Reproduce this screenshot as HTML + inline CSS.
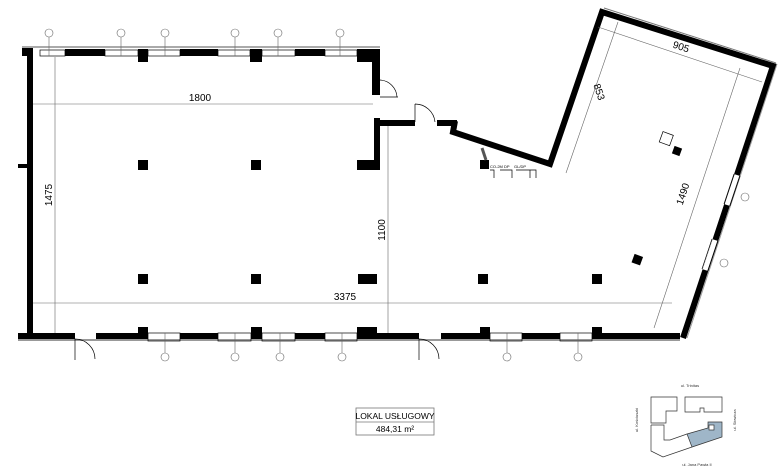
<!DOCTYPE html>
<html><head><meta charset="utf-8"><style>
html,body{margin:0;padding:0;background:#fff;}
svg{display:block;font-family:"Liberation Sans",sans-serif;}
</style></head><body>
<svg width="779" height="473" viewBox="0 0 779 473" xmlns="http://www.w3.org/2000/svg">
<g fill="#000">
<rect x="27" y="48" width="6" height="290"/>
<rect x="18" y="164" width="10" height="4"/>
<rect x="22" y="48" width="11" height="8"/>
<rect x="65" y="49" width="40" height="7"/>
<rect x="138" y="49" width="10" height="13"/>
<rect x="180" y="49" width="38" height="7"/>
<rect x="250" y="49" width="12" height="13"/>
<rect x="295" y="49" width="30" height="7"/>
<rect x="357" y="49" width="20" height="13"/>
<rect x="372" y="49" width="8" height="46"/>
<rect x="374" y="118" width="6" height="52"/>
<rect x="377" y="120" width="38" height="6"/>
<rect x="437" y="120" width="20" height="6"/>
<rect x="138" y="160" width="10" height="10"/>
<rect x="251" y="160" width="10" height="10"/>
<rect x="357" y="160" width="20" height="10"/>
<rect x="138" y="274" width="10" height="10"/>
<rect x="251" y="274" width="10" height="10"/>
<rect x="358" y="274" width="19" height="10"/>
<rect x="478" y="274" width="10" height="10"/>
<rect x="592" y="274" width="10" height="10"/>
<rect x="633" y="255" width="9" height="9" transform="rotate(20 637 259)"/>
<rect x="673" y="147" width="8" height="8" transform="rotate(20 677 151)"/>
<rect x="480" y="160" width="9" height="9"/>
<rect x="18" y="333" width="57" height="6"/>
<rect x="96" y="333" width="52" height="6"/>
<rect x="138" y="327" width="10" height="12"/>
<rect x="180" y="333" width="38" height="6"/>
<rect x="251" y="327" width="11" height="12"/>
<rect x="295" y="333" width="30" height="6"/>
<rect x="357" y="327" width="20" height="12"/>
<rect x="357" y="333" width="62" height="6"/>
<rect x="441" y="333" width="49" height="6"/>
<rect x="480" y="327" width="10" height="12"/>
<rect x="522" y="333" width="38" height="6"/>
<rect x="592" y="327" width="10" height="12"/>
<rect x="592" y="333" width="88" height="6"/>
</g>
<rect x="18" y="339" width="662" height="2" fill="#999"/>
<rect x="22" y="46" width="358" height="2" fill="#aaa"/>
<polyline points="455,121 453,132 550,164 602,12 773,66 683,338" fill="none" stroke="#000" stroke-width="6" stroke-linejoin="miter"/>
<polyline points="604,8 776,63" fill="none" stroke="#777" stroke-width="1"/>
<polyline points="777,64 687,338" fill="none" stroke="#999" stroke-width="1"/>
<!-- right wall windows -->
<g>
<line x1="737" y1="175" x2="727" y2="205" stroke="#fff" stroke-width="5"/>
<line x1="715" y1="240" x2="705" y2="270" stroke="#fff" stroke-width="5"/>
<g stroke="#000" stroke-width="0.7">
<line x1="740" y1="176" x2="730" y2="206"/><line x1="734" y1="174" x2="724" y2="204"/>
<line x1="718" y1="241" x2="708" y2="271"/><line x1="712" y1="239" x2="702" y2="269"/>
</g>
</g>
<g fill="none" stroke="#000" stroke-width="0.7">
<rect x="40" y="50" width="25" height="6"/><rect x="105" y="50" width="33" height="6"/><rect x="148" y="50" width="32" height="6"/>
<rect x="218" y="50" width="32" height="6"/><rect x="262" y="50" width="33" height="6"/><rect x="325" y="50" width="32" height="6"/>
<rect x="148" y="333" width="32" height="8"/><rect x="218" y="333" width="33" height="8"/><rect x="262" y="333" width="33" height="8"/>
<rect x="325" y="333" width="32" height="8"/><rect x="490" y="333" width="32" height="8"/><rect x="560" y="333" width="32" height="8"/>
<path d="M75 339 A20 20 0 0 1 95 359 M75 339 V360"/>
<path d="M419 339 A20 20 0 0 1 439 359 M419 339 V360"/>
<path d="M380 80 A18 18 0 0 1 397 97 M380 97 H398"/>
<path d="M415 104 A20 20 0 0 1 435 122 M415 104 V122"/>
<path d="M490 170 H494 V178 M500 170 H512 V178 M516 170 H530 V178 M530 170 H536 V178"/>
<path d="M482 148 L486 160" stroke-width="3" stroke="#555"/>
<rect x="661" y="133" width="11" height="11" transform="rotate(20 666 138)"/>
</g>
<g font-size="4" fill="#000"><text x="490" y="168">CO-2M DP</text><text x="514" y="168">GL/DP</text></g>
<g stroke="#666" stroke-width="0.6" fill="none">
<line x1="33" y1="104" x2="373" y2="104"/>
<line x1="33" y1="303" x2="672" y2="303"/>
<line x1="55" y1="57" x2="55" y2="333"/>
<line x1="388" y1="126" x2="388" y2="333"/>
<line x1="598" y1="27" x2="762" y2="82"/>
<line x1="566" y1="173" x2="618" y2="22"/>
<line x1="654" y1="328" x2="740" y2="68"/>
</g>
<g font-size="10" fill="#000" text-anchor="middle">
<text x="200" y="101">1800</text>
<text x="345" y="300">3375</text>
<text transform="translate(52 195) rotate(-90)">1475</text>
<text transform="translate(385 230) rotate(-90)">1100</text>
<text transform="translate(596 93) rotate(71)">853</text>
<text transform="translate(680 50) rotate(18)">905</text>
<text transform="translate(686 195) rotate(-72)">1490</text>
</g>
<g fill="none" stroke="#666" stroke-width="0.6">
<circle cx="49" cy="33" r="4"/><circle cx="121" cy="33" r="4"/><circle cx="165" cy="33" r="4"/><circle cx="235" cy="33" r="4"/><circle cx="278" cy="33" r="4"/><circle cx="340" cy="33" r="4"/>
<circle cx="165" cy="357" r="4"/><circle cx="235" cy="357" r="4"/><circle cx="280" cy="357" r="4"/><circle cx="342" cy="357" r="4"/><circle cx="507" cy="357" r="4"/><circle cx="578" cy="357" r="4"/>
<circle cx="745" cy="197" r="4"/><circle cx="724" cy="263" r="4"/>
<path d="M49 37 V56 M121 37 V56 M165 37 V56 M235 37 V56 M278 37 V56 M340 37 V56 M165 333 V353 M235 333 V353 M280 333 V353 M342 333 V353 M507 333 V353 M578 333 V353"/>
</g>
<g stroke="#777" stroke-width="0.8" fill="none">
<rect x="356" y="408" width="78" height="27"/><line x1="356" y1="422" x2="434" y2="422"/>
</g>
<text x="395" y="419" font-size="8.5" text-anchor="middle">LOKAL USŁUGOWY</text>
<text x="395" y="432" font-size="8.5" text-anchor="middle">484,31 m²</text>
<g stroke="#333" stroke-width="0.7" fill="none">
<polygon points="651,397 677,397 677,411 666,411 666,423 651,423"/>
<polygon points="685,397 722,397 722,412 704,412 704,408 700,408 700,412 685,412"/>
<polyline points="651,425 664,425 664,440 670,440 687,434"/>
<polyline points="651,425 651,451 663,457 692,447"/>
<polygon points="687,434 708,428 708,422 722,422 722,437 692,447" fill="#9fb6c8"/>
<rect x="709" y="425" width="5" height="5" fill="#fff"/>
</g>
<g font-size="4" fill="#333" text-anchor="middle">
<text x="690" y="387">ul. Trinitas</text><text x="697" y="466">ul. Jana Pawła II</text>
<text transform="translate(638 420) rotate(-90)">ul. Kościuszki</text>
<text transform="translate(736 420) rotate(-90)">ul. Słowicza</text>
</g>
</svg>
</body></html>
